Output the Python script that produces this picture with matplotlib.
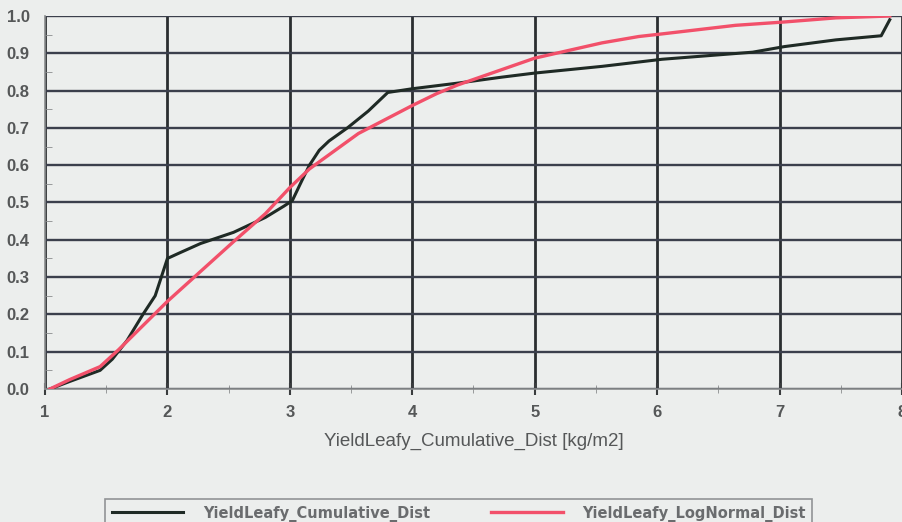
import matplotlib
matplotlib.use('Agg')
import matplotlib.pyplot as plt
from matplotlib.ticker import MultipleLocator

# values
cum_x = [1.04, 1.2, 1.45, 1.55, 1.67, 1.8, 1.9, 1.97, 2.0, 2.1, 2.27, 2.54, 2.8, 2.95,
         3.02, 3.1, 3.16, 3.24, 3.32, 3.47, 3.64, 3.8, 4.0, 4.37, 4.73, 5.0, 5.55,
         6.04, 6.78, 7.04, 7.46, 7.83, 7.9]
cum_y = [0.0, 0.02, 0.05, 0.08, 0.13, 0.2, 0.25, 0.32, 0.35, 0.365, 0.39, 0.42, 0.46, 0.49,
         0.505, 0.56, 0.6, 0.64, 0.665, 0.7, 0.745, 0.795, 0.805, 0.82, 0.836, 0.847, 0.865,
         0.884, 0.903, 0.918, 0.936, 0.947, 0.99]

logn_x = [1.04, 1.2, 1.45, 1.6, 1.8, 2.0, 2.27, 2.54, 2.8, 3.0, 3.16, 3.56, 4.0, 4.2,
          4.37, 5.0, 5.55, 5.85, 6.04, 6.64, 7.04, 7.46, 7.9]
logn_y = [0.0, 0.025, 0.06, 0.105, 0.17, 0.235, 0.315, 0.395, 0.47, 0.54, 0.59, 0.685,
          0.76, 0.792, 0.815, 0.887, 0.928, 0.945, 0.952, 0.975, 0.984, 0.995, 1.0]

x_label = 'YieldLeafy_Cumulative_Dist [kg/m2]'
cum_name = 'YieldLeafy_Cumulative_Dist'
logn_name = 'YieldLeafy_LogNormal_Dist'

bg = '#eceeed'
txt = '#555758'
plt.rcParams['font.family'] = ['Liberation Sans', 'DejaVu Sans']

fig = plt.figure(figsize=(9.03, 5.22), dpi=100, facecolor=bg)
ax = fig.add_axes([45 / 903, 1 - 389 / 522, 857 / 903, 373 / 522], facecolor=bg)

l1, = ax.plot(cum_x, cum_y, color='#1f2a25', lw=2.2, zorder=3)
l2, = ax.plot(logn_x, logn_y, color='#f2506a', lw=2.4, zorder=4)

ax.set_xlim(1, 8)
ax.set_ylim(0, 1.0)
ax.xaxis.set_major_locator(MultipleLocator(1))
ax.xaxis.set_minor_locator(MultipleLocator(0.5))
ax.yaxis.set_major_locator(MultipleLocator(0.1))
ax.yaxis.set_minor_locator(MultipleLocator(0.05))
ax.set_yticklabels([f'{v:.1f}' for v in ax.get_yticks()])

ax.grid(axis='x', which='major', color='#2a2e30', lw=2)
ax.grid(axis='y', which='major', color='#3b3f4c', lw=1.7)
ax.get_ygridlines()[-1].set_color('#8a8c90')
ax.get_ygridlines()[-1].set_linewidth(1.2)

for s in ['top', 'right']:
    ax.spines[s].set_visible(False)
for s in ['left', 'bottom']:
    ax.spines[s].set_color('#8a8c8e')
    ax.spines[s].set_linewidth(1.2)

ax.tick_params(axis='y', which='major', length=0, pad=11, labelsize=12, labelcolor=txt)
ax.tick_params(axis='y', which='minor', direction='in', length=5, color='#8a8c8e')
ax.tick_params(axis='x', which='major', direction='inout', length=9, width=1.5,
               color='#3a3c3e', pad=7, labelsize=12, labelcolor=txt)
ax.tick_params(axis='x', which='minor', direction='inout', length=6, color='#8a8c8e')
for lab in ax.get_xticklabels() + ax.get_yticklabels():
    lab.set_fontweight('bold')

ax.set_xlabel(x_label, fontsize=13.5, color=txt, labelpad=9)

leg = fig.legend([l1, l2], [cum_name, logn_name], ncol=2, loc='upper left',
                 bbox_to_anchor=(105 / 903, 1 - 499 / 522), borderaxespad=0,
                 frameon=True, fancybox=False, edgecolor='#7a7c80', facecolor=bg,
                 handlelength=4.9, handletextpad=1.35, columnspacing=4.2,
                 borderpad=0.45,
                 prop={'family': 'DejaVu Sans', 'size': 10.5, 'weight': 'bold'})
for t in leg.get_texts():
    t.set_color('#6a6c6e')
leg.get_frame().set_linewidth(1.2)

fig.savefig('out.png', dpi=100, facecolor=bg)
